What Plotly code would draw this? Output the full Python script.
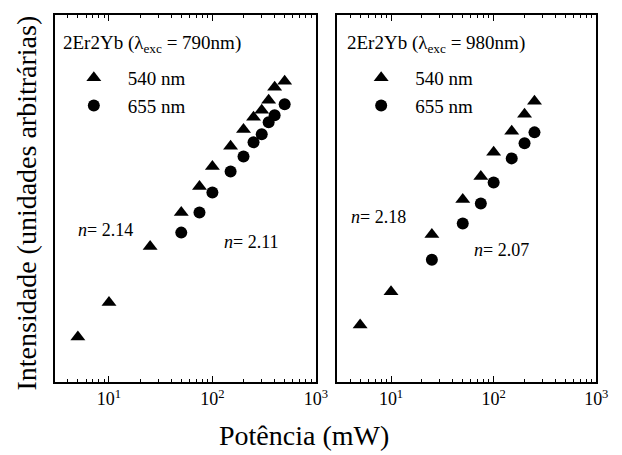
import plotly.graph_objects as go

# Excitation power (mW) and emission intensity (arb. units)
# 2Er2Yb excited at 790 nm
p790_540 = [5, 10, 25, 50, 75, 100, 150, 200, 250, 300, 350, 400, 500]
i790_540 = [5.6, 21, 178, 656, 1780, 3830, 8250, 15800, 25100, 32900, 48200, 79400, 100000]
p790_655 = [50, 75, 100, 150, 200, 250, 300, 350, 400, 500]
i790_655 = [304, 656, 1410, 3160, 5620, 9620, 13100, 20700, 27100, 41400]

# 2Er2Yb excited at 980 nm
p980_540 = [5, 10, 25, 50, 75, 100, 150, 200, 250]
i980_540 = [8.9, 31.6, 282, 1080, 2610, 6560, 14700, 28200, 46400]
p980_655 = [25, 50, 75, 100, 150, 200, 250]
i980_655 = [108, 430, 926, 2070, 5210, 9260, 14100]

panel_titles = ["2Er2Yb (λ<sub>exc</sub> = 790nm)", "2Er2Yb (λ<sub>exc</sub> = 980nm)"]
series_names = ["540 nm", "655 nm"]
slopes_790 = ["<i>n</i>= 2.14", "<i>n</i>= 2.11"]
slopes_980 = ["<i>n</i>= 2.18", "<i>n</i>= 2.07"]
x_tickvals = [10, 100, 1000]
x_ticktext = ["10<sup>1</sup>", "10<sup>2</sup>", "10<sup>3</sup>"]

FONT = "Liberation Serif"
W, H = 622, 455


def px(x):
    return x / W


def py(y):
    return 1 - y / H


fig = go.Figure()

panels = [
    ("x", "y", "legend", p790_540, i790_540, p790_655, i790_655),
    ("x2", "y2", "legend2", p980_540, i980_540, p980_655, i980_655),
]
for xa, ya, leg, x1, y1, x2, y2 in panels:
    fig.add_trace(go.Scatter(
        x=x1, y=y1, mode="markers", name=series_names[0], xaxis=xa, yaxis=ya,
        legend=leg,
        marker=dict(symbol="triangle-up", size=13, color="black", line=dict(width=0)),
    ))
    fig.add_trace(go.Scatter(
        x=x2, y=y2, mode="markers", name=series_names[1], xaxis=xa, yaxis=ya,
        legend=leg,
        marker=dict(symbol="circle", size=12, color="black", line=dict(width=0)),
    ))

xaxis_style = dict(
    type="log", range=[0.4771, 3],
    tickmode="array", tickvals=x_tickvals, ticktext=x_ticktext,
    showline=True, linecolor="black", linewidth=1.5, mirror="ticks",
    ticks="inside", ticklen=6, tickwidth=1, tickcolor="black",
    minor=dict(ticks="inside", ticklen=3, tickwidth=1, tickcolor="black", dtick="D1"),
    showgrid=False, zeroline=False,
    tickfont=dict(family=FONT, size=18, color="black"),
)
yaxis_style = dict(
    type="log", range=[0, 6.1], showticklabels=False, ticks="",
    showline=True, linecolor="black", linewidth=1.5, mirror=True,
    showgrid=False, zeroline=False,
)

dom_y = [py(382), py(15)]
fig.update_layout(
    width=W, height=H,
    margin=dict(l=0, r=0, t=0, b=0),
    paper_bgcolor="white", plot_bgcolor="white",
    font=dict(family=FONT, size=18, color="black"),
    xaxis=dict(domain=[px(56), px(322)], anchor="y", **xaxis_style),
    xaxis2=dict(domain=[px(344), px(608)], anchor="y2", **xaxis_style),
    yaxis=dict(domain=dom_y, anchor="x", **yaxis_style),
    yaxis2=dict(domain=dom_y, anchor="x2", **yaxis_style),
    legend=dict(
        x=px(61), y=py(59), xanchor="left", yanchor="top",
        bgcolor="rgba(0,0,0,0)", itemwidth=58,
        font=dict(family=FONT, size=19, color="black"),
    ),
    legend2=dict(
        x=px(354), y=py(59), xanchor="left", yanchor="top",
        bgcolor="rgba(0,0,0,0)", itemwidth=58,
        font=dict(family=FONT, size=19, color="black"),
    ),
)

annotations = [
    # panel titles
    dict(text=panel_titles[0], x=px(62), y=py(30), xanchor="left", yanchor="top", size=19),
    dict(text=panel_titles[1], x=px(352), y=py(30), xanchor="left", yanchor="top", size=19),
    # slope labels
    dict(text=slopes_790[0], x=px(78), y=py(230), xanchor="left", yanchor="middle", size=18),
    dict(text=slopes_790[1], x=px(226), y=py(242), xanchor="left", yanchor="middle", size=18),
    dict(text=slopes_980[0], x=px(356), y=py(217), xanchor="left", yanchor="middle", size=18),
    dict(text=slopes_980[1], x=px(481), y=py(250), xanchor="left", yanchor="middle", size=18),
    # axis titles
    dict(text="Potência (mW)", x=px(310), y=py(435), xanchor="center", yanchor="middle",
         size=28),
    dict(text="Intensidade (unidades arbitrárias)", x=px(27), y=py(203),
         xanchor="center", yanchor="middle", textangle=-90, size=28),
]
for a in annotations:
    size = a.pop("size")
    a.update(xref="paper", yref="paper", showarrow=False,
             font=dict(family=FONT, size=size, color="black"))
fig.update_layout(annotations=annotations)

fig.write_html("out.html")
